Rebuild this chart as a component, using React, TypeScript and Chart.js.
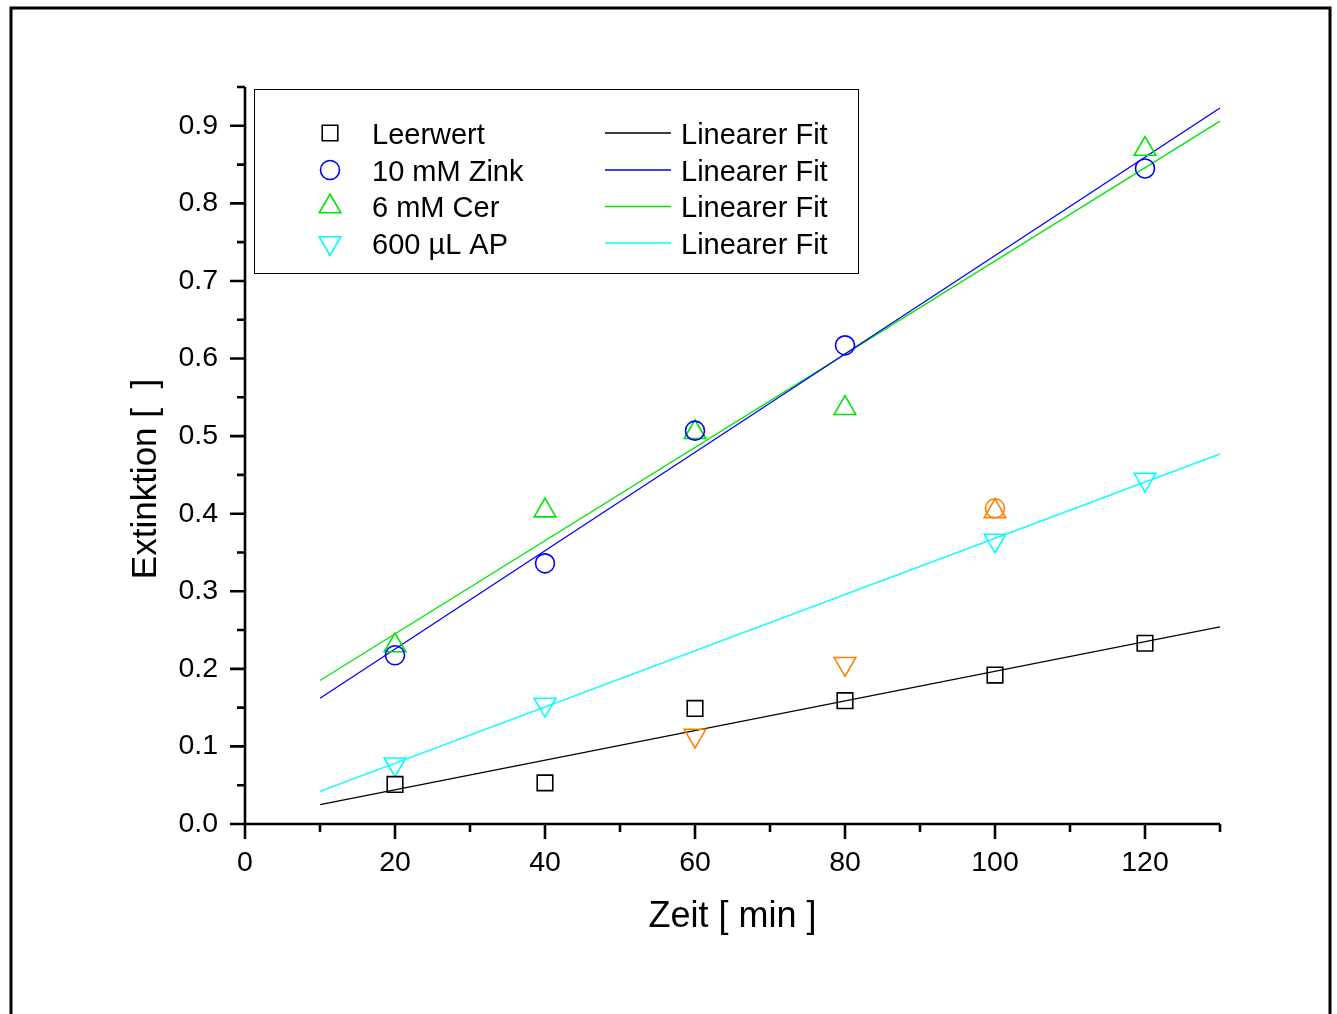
import React, { useEffect, useRef } from 'react';
import { Chart, registerables } from 'chart.js';

Chart.register(...registerables);

// Measurement times [min]
const times = [20, 40, 60, 80, 100, 120];

// Extinction values per series
const leerwert = [0.051, 0.053, 0.149, 0.159, 0.192, 0.233];
const zink = [0.2175, 0.336, 0.507, 0.617, 0.407, 0.845];
const cer = [0.23, 0.404, 0.505, 0.536, 0.403, 0.87];
const ap = [0.077, 0.154, 0.114, 0.2065, 0.3655, 0.444];

// Indices of points excluded from the linear fits (drawn in orange)
const leerwertMasked: number[] = [];
const zinkMasked = [4];
const cerMasked = [4];
const apMasked = [2, 3];

// Linear fit lines: range of x and the fitted y at both ends
const fitX = [10, 130];
const fitLeerwert = [0.025, 0.254];
const fitZink = [0.162, 0.923];
const fitCer = [0.185, 0.906];
const fitAp = [0.042, 0.477];

const seriesNames = ['Leerwert', '10 mM Zink', '6 mM Cer', '600 µL AP'];
const fitName = 'Linearer Fit';
const xTitle = 'Zeit [ min ]';
const yTitle = 'Extinktion [  ]';

const X_MIN = 0;
const X_MAX = 130;
const Y_MIN = 0;
const Y_MAX = 0.95;

const BLACK = '#000000';
const BLUE = '#0000ff';
const GREEN = '#00e600';
const CYAN = '#00ffff';
const ORANGE = '#ff8000';
const FONT = '"Liberation Sans", Arial, Helvetica, sans-serif';

type Marker = { style: 'rect' | 'circle' | 'triangle'; radius: number; rotation: number };
const markers: Marker[] = [
  { style: 'rect', radius: 11, rotation: 0 },
  { style: 'circle', radius: 9.5, rotation: 0 },
  { style: 'triangle', radius: 12.5, rotation: 0 },
  { style: 'triangle', radius: 12.5, rotation: 180 },
];
const colors = [BLACK, BLUE, GREEN, CYAN];

function points(ys: number[]) {
  return times.map((t, i) => ({ x: t, y: ys[i] }));
}
function fitPoints(ys: number[]) {
  return fitX.map((t, i) => ({ x: t, y: ys[i] }));
}
function pointColors(n: number, color: string, masked: number[]) {
  return Array.from({ length: n }, (_, i) => (masked.includes(i) ? ORANGE : color));
}

function drawMarker(ctx: CanvasRenderingContext2D, m: Marker, x: number, y: number, color: string) {
  ctx.save();
  ctx.strokeStyle = color;
  ctx.lineWidth = 1.6;
  ctx.beginPath();
  if (m.style === 'rect') {
    const s = Math.SQRT1_2 * m.radius;
    ctx.rect(x - s, y - s, 2 * s, 2 * s);
  } else if (m.style === 'circle') {
    ctx.arc(x, y, m.radius, 0, Math.PI * 2);
  } else {
    let rad = (m.rotation * Math.PI) / 180;
    ctx.moveTo(x + Math.sin(rad) * m.radius, y - Math.cos(rad) * m.radius);
    for (let k = 0; k < 2; k++) {
      rad += (2 * Math.PI) / 3;
      ctx.lineTo(x + Math.sin(rad) * m.radius, y - Math.cos(rad) * m.radius);
    }
    ctx.closePath();
  }
  ctx.stroke();
  ctx.restore();
}

// Page frame, axes with major/minor ticks, axis titles and the boxed legend
const decorations = {
  id: 'decorations',
  beforeDraw(chart: Chart) {
    const ctx = chart.ctx;
    ctx.save();
    ctx.fillStyle = '#ffffff';
    ctx.fillRect(0, 0, chart.width, chart.height);
    ctx.strokeStyle = BLACK;
    ctx.lineWidth = 3;
    ctx.strokeRect(11, 8, 1319, 1100);
    ctx.restore();
  },
  afterDraw(chart: Chart) {
    const ctx = chart.ctx;
    const xs = chart.scales.x;
    const ys = chart.scales.y;
    const left = xs.getPixelForValue(X_MIN);
    const right = xs.getPixelForValue(X_MAX);
    const bottom = ys.getPixelForValue(Y_MIN);
    const top = ys.getPixelForValue(Y_MAX);
    const major = 15;
    const minor = 8;

    ctx.save();
    ctx.strokeStyle = BLACK;
    ctx.lineWidth = 2.6;
    ctx.lineCap = 'butt';
    ctx.beginPath();
    ctx.moveTo(left, top);
    ctx.lineTo(left, bottom);
    ctx.moveTo(left, bottom);
    ctx.lineTo(right, bottom);
    for (let v = X_MIN; v <= X_MAX; v += 10) {
      const px = xs.getPixelForValue(v);
      ctx.moveTo(px, bottom);
      ctx.lineTo(px, bottom + (v % 20 === 0 ? major : minor));
    }
    for (let k = 0; k <= Math.round(Y_MAX / 0.05); k++) {
      const py = ys.getPixelForValue(k * 0.05);
      ctx.moveTo(left, py);
      ctx.lineTo(left - (k % 2 === 0 ? major : minor), py);
    }
    ctx.stroke();

    // axis titles
    ctx.fillStyle = BLACK;
    ctx.textAlign = 'center';
    ctx.textBaseline = 'alphabetic';
    ctx.font = `36px ${FONT}`;
    ctx.fillText(xTitle, (left + right) / 2, 927);
    ctx.save();
    ctx.font = `35px ${FONT}`;
    ctx.translate(143, 479);
    ctx.rotate(-Math.PI / 2);
    ctx.fillText(yTitle, 0, 12.5);
    ctx.restore();

    // legend
    const bx = 254.5;
    const by = 89.5;
    const bw = 604;
    const bh = 184;
    ctx.lineWidth = 1;
    ctx.strokeRect(bx, by, bw, bh);
    const rows = [133, 170, 206.5, 243];
    const fitColors = [BLACK, BLUE, GREEN, CYAN];
    ctx.font = `29px ${FONT}`;
    ctx.textAlign = 'left';
    rows.forEach((ry, i) => {
      drawMarker(ctx, markers[i], 330, ry, colors[i]);
      ctx.fillStyle = BLACK;
      ctx.fillText(seriesNames[i], 372, ry + 10.5);
      ctx.strokeStyle = fitColors[i];
      ctx.lineWidth = 1.3;
      ctx.beginPath();
      ctx.moveTo(605, ry);
      ctx.lineTo(671, ry);
      ctx.stroke();
      ctx.fillText(fitName, 681, ry + 10.5);
    });
    ctx.restore();
  },
};

export default function App() {
  const canvasRef = useRef<HTMLCanvasElement | null>(null);

  useEffect(() => {
    const canvas = canvasRef.current;
    if (!canvas) return;

    const series = [leerwert, zink, cer, ap];
    const masked = [leerwertMasked, zinkMasked, cerMasked, apMasked];
    const fits = [fitLeerwert, fitZink, fitCer, fitAp];

    const fitSets = fits.map((f, i) => ({
      label: fitName,
      data: fitPoints(f),
      showLine: true,
      borderColor: colors[i],
      borderWidth: 1.3,
      pointRadius: 0,
      fill: false,
      order: 2,
    }));

    const pointSets = series.map((s, i) => ({
      label: seriesNames[i],
      data: points(s),
      showLine: false,
      pointStyle: markers[i].style,
      pointRadius: markers[i].radius,
      pointRotation: markers[i].rotation,
      pointBorderWidth: 1.6,
      pointBorderColor: pointColors(s.length, colors[i], masked[i]),
      pointBackgroundColor: 'rgba(0,0,0,0)',
      order: 1,
    }));

    const chart = new Chart(canvas, {
      type: 'scatter',
      data: { datasets: [...fitSets, ...pointSets] as any },
      plugins: [decorations as any],
      options: {
        animation: false,
        responsive: false,
        devicePixelRatio: 1,
        layout: { padding: { top: 87, right: 117, left: 0, bottom: 0 } },
        plugins: {
          legend: { display: false },
          tooltip: { enabled: false },
          title: { display: false },
        },
        scales: {
          x: {
            type: 'linear',
            min: X_MIN,
            max: X_MAX,
            grid: { display: false, drawTicks: false },
            border: { display: false },
            ticks: {
              stepSize: 10,
              autoSkip: false,
              maxRotation: 0,
              minRotation: 0,
              padding: 22,
              color: BLACK,
              font: { family: FONT, size: 28.5 },
              callback: (v: any) => (Math.round(Number(v)) % 20 === 0 ? String(Math.round(Number(v))) : ''),
            },
            afterFit: (s: any) => {
              s.height = 190;
            },
          },
          y: {
            type: 'linear',
            min: Y_MIN,
            max: Y_MAX,
            grid: { display: false, drawTicks: false },
            border: { display: false },
            ticks: {
              stepSize: 0.05,
              autoSkip: false,
              padding: 27,
              color: BLACK,
              font: { family: FONT, size: 28.5 },
              callback: (v: any) => {
                const k = Math.round(Number(v) * 100);
                return k % 10 === 0 ? (k / 100).toFixed(1) : '';
              },
            },
            afterFit: (s: any) => {
              s.width = 245;
            },
          },
        },
      },
    });

    return () => chart.destroy();
  }, []);

  return (
    <div style={{ position: 'fixed', left: 0, top: 0, width: 1337, height: 1014, background: '#ffffff' }}>
      <canvas ref={canvasRef} width={1337} height={1014} />
    </div>
  );
}
